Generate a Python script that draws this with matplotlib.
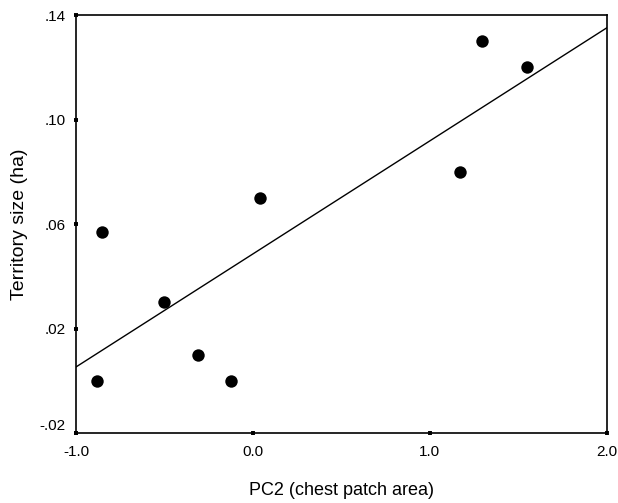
import numpy as np
import matplotlib.pyplot as plt

plt.rcParams['font.family'] = ['Liberation Sans', 'DejaVu Sans']

# data
pc2 = [-0.88, -0.853, -0.504, -0.312, -0.126, 0.038, 1.17, 1.296, 1.55]
territory = [0.0, 0.057, 0.030, 0.010, 0.0, 0.070, 0.080, 0.130, 0.120]
xticks = [-1.0, 0.0, 1.0, 2.0]
xlabels = ['-1.0', '0.0', '1.0', '2.0']
yticks = [-0.02, 0.02, 0.06, 0.10, 0.14]
ylabels = ['-.02', '.02', '.06', '.10', '.14']

fig = plt.figure(figsize=(6.18, 5.03), dpi=100)
ax = fig.add_axes([0.123, 0.139, 0.859, 0.831])

ax.scatter(pc2, territory, s=80, color='black', zorder=3, linewidths=0)

# least squares line across the full x range
slope, icpt = np.polyfit(pc2, territory, 1)
xl = np.array([-1.0, 2.0])
ax.plot(xl, slope * xl + icpt, color='black', lw=1.0)

ax.set_xlim(-1.0, 2.0)
ax.set_ylim(-0.02, 0.14)
ax.set_xticks(xticks)
ax.set_xticklabels(xlabels)
ax.set_yticks(yticks)
ax.set_yticklabels(ylabels)
ax.tick_params(direction='inout', length=3, width=2.8, labelsize=11)
ax.tick_params(axis='x', pad=7)
ax.tick_params(axis='y', pad=6)
# bottom y label sits just above its tick, clear of the -1.0 label
ax.get_yticklabels()[0].set_va('bottom')

for s in ax.spines.values():
    s.set_linewidth(1.2)

ax.set_xlabel('PC2 (chest patch area)', fontsize=13, labelpad=17)
ax.set_ylabel('Territory size (ha)', fontsize=14, labelpad=8)

fig.savefig('out.png', dpi=100)
